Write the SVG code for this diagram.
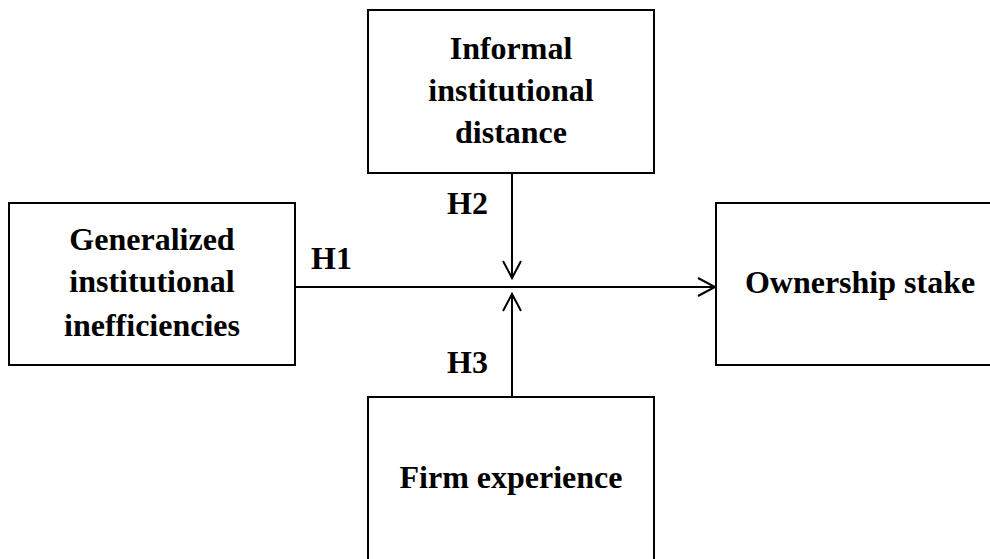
<svg xmlns="http://www.w3.org/2000/svg" width="990" height="559" viewBox="0 0 990 559">
<style>
.box{fill:#fff;stroke:#000;stroke-width:2}
.t{font-family:"Liberation Serif","Times New Roman",serif;font-weight:bold;font-size:32px;fill:#000;text-anchor:middle}
.h{font-family:"Liberation Serif","Times New Roman",serif;font-weight:bold;font-size:32px;fill:#000}
.ln{stroke:#000;stroke-width:2;fill:none}
.ah{stroke:#000;stroke-width:2;fill:none;stroke-linejoin:miter}
</style>
<rect width="990" height="559" fill="#fff"/>
<g id="informal">
<rect class="box" x="368" y="10" width="286" height="163"/>
<text class="t" x="511" y="59">Informal</text>
<text class="t" x="511" y="101">institutional</text>
<text class="t" x="511" y="143">distance</text>
</g>
<g id="generalized">
<rect class="box" x="9" y="203" width="286" height="162"/>
<text class="t" x="152" y="250">Generalized</text>
<text class="t" x="152" y="292">institutional</text>
<text class="t" x="152" y="336">inefficiencies</text>
</g>
<g id="ownership">
<rect class="box" x="716" y="203" width="276" height="162"/>
<text class="t" x="860" y="293">Ownership stake</text>
</g>
<g id="firm">
<rect class="box" x="368" y="397" width="286" height="170"/>
<text class="t" x="511" y="488">Firm experience</text>
</g>
<g id="connectors">
<line class="ln" x1="295" y1="287" x2="715" y2="287"/>
<polyline class="ah" points="698,278 715,287 698,296"/>
<line class="ln" x1="512" y1="173" x2="512" y2="278"/>
<polyline class="ah" points="503,261 512,278 521,261"/>
<line class="ln" x1="512" y1="397" x2="512" y2="294"/>
<polyline class="ah" points="503,311 512,294 521,311"/>
<text class="h" x="311" y="269">H1</text>
<text class="h" x="447" y="214">H2</text>
<text class="h" x="447" y="373">H3</text>
</g>
</svg>
